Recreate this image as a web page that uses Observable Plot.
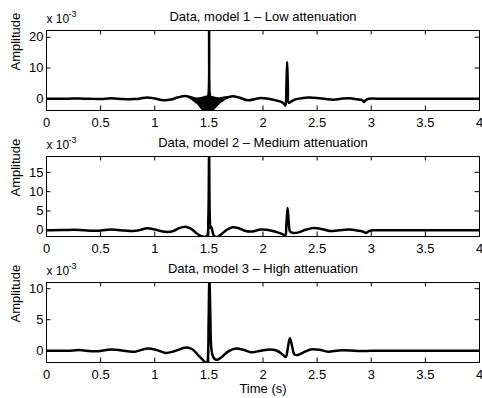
<!DOCTYPE html>
<html>
<head>
<meta charset="utf-8">
<script src="https://cdn.jsdelivr.net/npm/d3@7"></script>
<script src="https://cdn.jsdelivr.net/npm/@observablehq/plot@0.6"></script>
<style>
  html, body { margin: 0; padding: 0; background: #fff; }
  #chart { position: relative; width: 482px; height: 398px; overflow: hidden; background: #fff; }
  #chart svg { position: absolute; left: 0; }
</style>
</head>
<body>
<div id="chart"></div>
<script>
// ---- tick values and labels ----
const xTicks = [0, 0.5, 1, 1.5, 2, 2.5, 3, 3.5, 4];
const xTickLabels = ["0", "0.5", "1", "1.5", "2", "2.5", "3", "3.5", "4"];
const titles = [
  "Data, model 1 \u2013 Low attenuation",
  "Data, model 2 \u2013 Medium attenuation",
  "Data, model 3 \u2013 High attenuation"
];
const yLabel = "Amplitude";
const xLabel = "Time (s)";
const expBase = "x 10";
const expPow = "-3";

const yTicks1 = [0, 10, 20];
const yTicks2 = [0, 5, 10, 15];
const yTicks3 = [0, 5, 10];
const yRange1 = [-3.8, 22.2];
const yRange2 = [-1.6, 19.1];
const yRange3 = [-1.9, 11.0];

// ---- model 1 (amplitude in units of 1e-3) ----
const t1 = [0, 0.1, 0.2, 0.3, 0.4, 0.5, 0.6, 0.7, 0.8, 0.86, 0.93, 1.0, 1.08, 1.15, 1.21, 1.28, 1.34, 1.40, 1.45,
  1.485, 1.495, 1.502, 1.509, 1.516, 1.53, 1.57, 1.62, 1.67, 1.72, 1.78, 1.86, 1.93, 1.98, 2.05, 2.12, 2.17, 2.20,
  2.208, 2.216, 2.223, 2.230, 2.238, 2.26, 2.30, 2.36, 2.42, 2.5, 2.58, 2.65, 2.72, 2.8, 2.87, 2.915, 2.935, 2.95,
  2.98, 3.1, 3.3, 3.5, 3.7, 3.9, 4];
const a1 = [0, 0, 0.05, 0.1, 0, -0.05, 0.15, -0.05, -0.1, 0.05, 0.45, 0.1, -0.45, -0.25, 0.4, 0.9, 0.4, -0.2, -0.3,
  0.2, 1.0, 24, 1.0, 0.3, -0.2, -0.3, 0.2, 0.5, 0.8, 0.4, -0.5, -0.05, 0.3, 0, -0.5, -1.0, -1.8,
  -2.2, 4, 12, 4, -1.3, -0.9, -0.2, 0.2, 0.45, 0.3, -0.1, -0.3, 0, 0.2, -0.15, -0.4, -1.0, -0.4,
  0, 0, 0, 0, 0, 0, 0];
// envelope of the high-frequency ringing around the first arrival (model 1)
const b1t  = [1.31, 1.35, 1.40, 1.44, 1.47, 1.50, 1.53, 1.56, 1.61, 1.66, 1.71];
const b1lo = [0.3, -0.7, -2.1, -3.9, -4.5, -4.5, -4.5, -3.5, -1.6, -0.5, 0.4];
const b1hi = [0.5, 0.3, 0.3, 0.5, 0.8, 1.0, 0.8, 0.5, 0.3, 0.4, 0.6];

// ---- model 2 ----
const t2 = [0, 0.15, 0.25, 0.35, 0.45, 0.6, 0.72, 0.8, 0.86, 0.93, 1.0, 1.1, 1.17, 1.22, 1.28, 1.33, 1.38, 1.42, 1.46,
  1.485, 1.495, 1.502, 1.509, 1.516, 1.524, 1.535, 1.55, 1.58, 1.62, 1.67, 1.72, 1.77, 1.84, 1.9, 1.98, 2.05, 2.12,
  2.18, 2.205, 2.216, 2.227, 2.238, 2.25, 2.28, 2.32, 2.4, 2.47, 2.55, 2.62, 2.7, 2.8, 2.88, 2.93, 2.95, 2.98, 3.02,
  3.2, 3.5, 3.8, 4];
const a2 = [0, 0.05, 0.15, 0, -0.1, 0.2, -0.05, -0.2, 0.05, 0.55, 0.2, -0.4, -0.2, 0.5, 0.95, 0.5, -0.6, -1.4, -1.7,
  -1.3, 3, 20, 3, 0.6, 0.8, -0.5, -1.5, -1.7, -0.9, 0.2, 0.8, 0.6, -0.2, -0.3, 0.2, 0.1, -0.4,
  -1.0, -1.4, 1.5, 5.8, 2, -0.3, -0.7, -0.6, 0.2, 0.6, 0.3, -0.2, 0, 0.2, -0.1, -0.4, -0.7, -0.2, 0,
  0, 0, 0, 0];

// ---- model 3 ----
const t3 = [0, 0.2, 0.3, 0.45, 0.6, 0.75, 0.82, 0.93, 1.02, 1.1, 1.18, 1.29, 1.35, 1.40, 1.45, 1.48, 1.49, 1.497,
  1.505, 1.513, 1.52, 1.53, 1.55, 1.58, 1.62, 1.68, 1.75, 1.82, 1.89, 1.98, 2.06, 2.13, 2.18, 2.21, 2.228, 2.248,
  2.268, 2.29, 2.32, 2.37, 2.44, 2.52, 2.6, 2.7, 2.8, 2.9, 3.0, 3.2, 3.5, 3.8, 4];
const a3 = [0, 0, 0.1, -0.1, 0.2, -0.1, -0.15, 0.35, 0.1, -0.35, -0.1, 0.5, 0.2, -0.7, -1.6, -2.1, -1.4, 4,
  11.8, 6, 1, -0.5, -1.3, -1.45, -1.0, -0.1, 0.35, 0.15, -0.25, 0.0, 0.2, 0.0, -0.6, -1.0, 0.3, 2.0,
  0.8, -0.6, -0.7, -0.3, 0.2, 0.15, -0.15, 0.05, 0.05, -0.05, 0, 0, 0, 0, 0];

const FONT = "'Liberation Sans', Arial, Helvetica, sans-serif";

function panel({title, t, a, band, yDomain, yTicks, top, withXLabel}) {
  const W = 482, H = 146, mT = 30, mB = 36, mL = 46, mR = 3;
  const fw = W - mL - mR, fh = H - mT - mB;
  const tick = 4.5;
  const rows = t.map((v, i) => ({t: v, a: a[i]}));
  const marks = [];
  if (band) {
    const brows = band.t.map((v, i) => ({t: v, lo: band.lo[i], hi: band.hi[i]}));
    marks.push(Plot.areaY(brows, {x: "t", y1: "lo", y2: "hi", fill: "black", clip: true}));
  }
  marks.push(Plot.line(rows, {x: "t", y: "a", stroke: "black", strokeWidth: 2.5,
    curve: "catmull-rom", strokeLinejoin: "round", clip: true}));
  // inward ticks on all four sides
  marks.push(Plot.ruleX(xTicks, {x: d => d, insetTop: fh - tick, stroke: "black", strokeWidth: 1}));
  marks.push(Plot.ruleX(xTicks, {x: d => d, insetBottom: fh - tick, stroke: "black", strokeWidth: 1}));
  marks.push(Plot.ruleY(yTicks, {y: d => d, insetRight: fw - tick, stroke: "black", strokeWidth: 1}));
  marks.push(Plot.ruleY(yTicks, {y: d => d, insetLeft: fw - tick, stroke: "black", strokeWidth: 1}));
  marks.push(Plot.frame({stroke: "black", strokeWidth: 1}));
  // tick labels
  marks.push(Plot.text(xTickLabels, {x: (d, i) => xTicks[i], text: d => d, frameAnchor: "bottom",
    lineAnchor: "bottom", dy: 16.5, fontSize: 13, fill: "black"}));
  marks.push(Plot.text(yTicks, {y: d => d, text: d => String(d), frameAnchor: "left", textAnchor: "end",
    lineAnchor: "middle", dx: -3, fontSize: 13, fill: "black"}));
  // title
  marks.push(Plot.text([title], {text: d => d, frameAnchor: "top", lineAnchor: "bottom", dy: -10,
    fontSize: 13, fill: "black"}));
  // exponent label
  marks.push(Plot.text([expBase], {text: d => d, frameAnchor: "top-left", textAnchor: "start",
    lineAnchor: "bottom", dy: -7.5, fontSize: 12, fill: "black"}));
  marks.push(Plot.text([expPow], {text: d => d, frameAnchor: "top-left", textAnchor: "start",
    lineAnchor: "bottom", dx: 22, dy: -14, fontSize: 9, fill: "black"}));
  // y label
  marks.push(Plot.text([yLabel], {text: d => d, frameAnchor: "left", rotate: -90, dx: -31,
    lineAnchor: "middle", fontSize: 13, fill: "black"}));
  if (withXLabel) {
    marks.push(Plot.text([xLabel], {text: d => d, frameAnchor: "bottom", lineAnchor: "bottom", dy: 30,
      fontSize: 13, fill: "black"}));
  }
  const svg = Plot.plot({
    width: W, height: H,
    marginTop: mT, marginBottom: mB, marginLeft: mL, marginRight: mR,
    x: {domain: [0, 4], axis: null},
    y: {domain: yDomain, axis: null},
    style: {background: "transparent", overflow: "visible", fontFamily: FONT, fontSize: "13px", color: "black"},
    marks
  });
  svg.style.top = top + "px";
  return svg;
}

const chart = document.getElementById("chart");
chart.appendChild(panel({title: titles[0], t: t1, a: a1, band: {t: b1t, lo: b1lo, hi: b1hi},
  yDomain: yRange1, yTicks: yTicks1, top: 0, withXLabel: false}));
chart.appendChild(panel({title: titles[1], t: t2, a: a2, yDomain: yRange2, yTicks: yTicks2, top: 126, withXLabel: false}));
chart.appendChild(panel({title: titles[2], t: t3, a: a3, yDomain: yRange3, yTicks: yTicks3, top: 252, withXLabel: true}));
</script>
</body>
</html>
